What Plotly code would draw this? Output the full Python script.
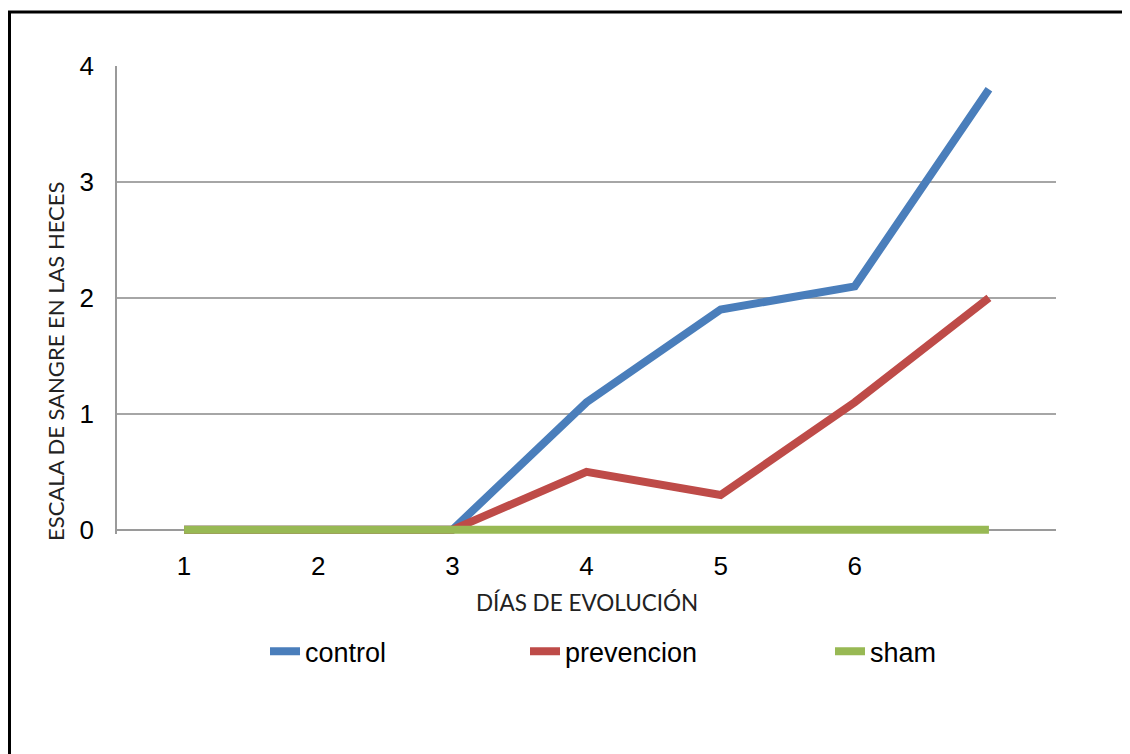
import plotly.graph_objects as go

days = [1, 2, 3, 4, 5, 6, 7]
tick_vals = [1, 2, 3, 4, 5, 6]
tick_text = ["1", "2", "3", "4", "5", "6"]
control = [0, 0, 0, 1.1, 1.9, 2.1, 3.8]
prevencion = [0, 0, 0, 0.5, 0.3, 1.1, 2.0]
sham = [0, 0, 0, 0, 0, 0, 0]

series = [
    ("control", control, "#4A7EBB", "legend"),
    ("prevencion", prevencion, "#BE4B48", "legend2"),
    ("sham", sham, "#98B954", "legend3"),
]

fig = go.Figure()
for name, vals, color, lg in series:
    fig.add_trace(go.Scatter(
        x=days, y=vals, name=name, mode="lines",
        line=dict(color=color, width=8),
        legend=lg,
    ))

# page body has an 8px margin; work in screen coordinates
OFF = 8
W, H = 1130, 754
ymin = -0.036
unit = (530 - 66) / 4.0
bottom_px = 530 + (-ymin) * unit
L, T = 117 - OFF, 66 - OFF
R = W - (1056 - OFF)
B = H - (bottom_px - OFF)
pw, ph = W - L - R, H - T - B

def px(x):
    return (x - OFF - L) / pw

def py(y):
    return (H - B - (y - OFF)) / ph

leg_common = dict(orientation="h", bgcolor="rgba(0,0,0,0)", borderwidth=0,
                  font=dict(family="Liberation Sans, Arial", size=27, color="#000"),
                  yanchor="middle", y=py(652), xanchor="left", itemwidth=30)

fig.update_layout(
    width=W, height=H,
    margin=dict(l=L, r=R, t=T, b=B),
    paper_bgcolor="white", plot_bgcolor="white",
    showlegend=True,
    legend=dict(leg_common, x=px(265)),
    legend2=dict(leg_common, x=px(525)),
    legend3=dict(leg_common, x=px(830)),
    xaxis=dict(
        range=[0.5, 7.5], tickmode="array", tickvals=tick_vals, ticktext=tick_text,
        showgrid=False, zeroline=False, showline=False,
        ticks="", ticklabelstandoff=14,
        tickfont=dict(family="Liberation Sans, Arial", size=26, color="#000"),
    ),
    yaxis=dict(
        range=[ymin, 4], tickmode="array", tickvals=[0, 1, 2, 3, 4],
        showgrid=True, gridcolor="#a6a6a6", gridwidth=1.5,
        zeroline=True, zerolinecolor="#9a9a9a", zerolinewidth=1.5,
        showline=True, linecolor="#9a9a9a", linewidth=1.5,
        ticks="", ticklabelstandoff=16,
        tickfont=dict(family="Liberation Sans, Arial", size=26, color="#000"),
    ),
    annotations=[
        dict(
            text="ESCALA DE SANGRE EN LAS HECES", textangle=-90,
            xref="paper", yref="paper", x=px(56), y=py(362),
            xanchor="center", yanchor="middle", showarrow=False,
            font=dict(family="Lato, Open Sans", size=22, color="#222"),
        ),
        dict(
            text="DÍAS DE EVOLUCIÓN",
            xref="paper", yref="paper", x=px(587), y=py(603),
            xanchor="center", yanchor="middle", showarrow=False,
            font=dict(family="Lato, Open Sans", size=22.5, color="#222"),
        ),
    ],
    shapes=[dict(
        type="rect", xref="paper", yref="paper",
        x0=px(9.5), x1=px(1150), y0=py(780), y1=py(12),
        line=dict(color="black", width=3), fillcolor="rgba(0,0,0,0)", layer="below",
    )],
)

fig.write_html("out.html")
